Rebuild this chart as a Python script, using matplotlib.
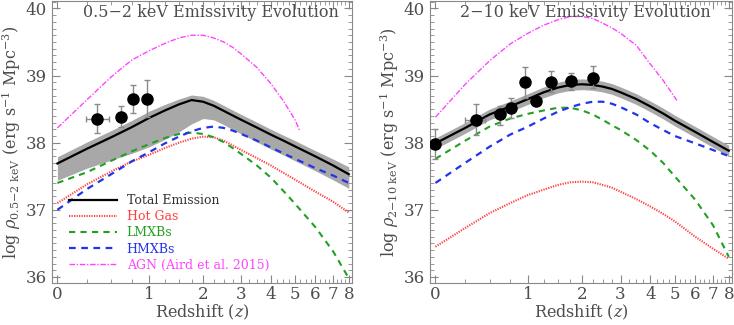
import numpy as np
import matplotlib
matplotlib.use("Agg")
import matplotlib.pyplot as plt
from matplotlib.ticker import FixedLocator, MultipleLocator

plt.rcParams['font.family'] = ['DejaVu Serif']
plt.rcParams['mathtext.fontset'] = 'dejavuserif'

# redshift grid the curves were read at
z_grid = [0, 0.25, 0.5, 0.75, 1, 1.25, 1.5, 1.75, 2, 2.25, 2.5, 2.75, 3, 3.5, 4, 4.5, 5, 6, 7, 8]

# 0.5-2 keV panel
soft_total = [37.69, 37.91, 38.08, 38.23, 38.37, 38.48, 38.57, 38.635, 38.61, 38.55, 38.475,
              38.405, 38.34, 38.225, 38.12, 38.03, 37.945, 37.795, 37.66, 37.53]
soft_band_hi = [37.79, 38.01, 38.18, 38.33, 38.47, 38.57, 38.65, 38.71, 38.69, 38.63, 38.555,
                38.485, 38.42, 38.305, 38.20, 38.11, 38.03, 37.88, 37.755, 37.64]
soft_band_lo = [37.44, 37.62, 37.74, 37.84, 37.94, 38.05, 38.16, 38.28, 38.36, 38.34, 38.27,
                38.195, 38.13, 38.01, 37.905, 37.815, 37.73, 37.58, 37.445, 37.32]
soft_hot = [37.10, 37.38, 37.57, 37.72, 37.82, 37.92, 38.00, 38.06, 38.09, 38.08, 38.03,
            37.96, 37.89, 37.77, 37.66, 37.55, 37.45, 37.27, 37.12, 36.96]
soft_lmxb = [37.40, 37.56, 37.73, 37.87, 37.98, 38.07, 38.13, 38.15, 38.13, 38.08, 38.01,
             37.92, 37.83, 37.66, 37.48, 37.28, 37.09, 36.74, 36.38, 35.98]
soft_hmxb = [37.00, 37.31, 37.53, 37.72, 37.86, 37.99, 38.09, 38.17, 38.22, 38.24, 38.22,
             38.18, 38.13, 38.03, 37.93, 37.84, 37.76, 37.62, 37.51, 37.40]

soft_agn_z = [0, 0.25, 0.5, 0.75, 1, 1.25, 1.5, 1.75, 2, 2.25, 2.5, 2.75, 3, 3.5, 4, 4.5, 5, 5.2]
soft_agn = [38.22, 38.64, 38.98, 39.23, 39.37, 39.48, 39.56, 39.60, 39.60, 39.56, 39.50,
            39.42, 39.32, 39.12, 38.88, 38.62, 38.34, 38.19]

soft_obs_z = [0.352, 0.616, 0.765, 0.961]
soft_obs = [38.36, 38.38, 38.65, 38.65]
soft_obs_up = [0.22, 0.17, 0.21, 0.28]
soft_obs_dn = [0.21, 0.14, 0.21, 0.27]
soft_obs_zlo = [0.11, 0.03, 0.03, 0.03]
soft_obs_zhi = [0.12, 0.03, 0.03, 0.03]

# 2-10 keV panel
hard_total = [37.99, 38.22, 38.42, 38.54, 38.65, 38.75, 38.82, 38.86, 38.87, 38.86, 38.835,
              38.80, 38.75, 38.65, 38.54, 38.435, 38.33, 38.16, 38.01, 37.88]
hard_band_hi = [38.07, 38.30, 38.50, 38.62, 38.73, 38.83, 38.90, 38.94, 38.95, 38.94, 38.915,
                38.88, 38.83, 38.73, 38.62, 38.515, 38.41, 38.24, 38.09, 37.96]
hard_band_lo = [37.91, 38.14, 38.34, 38.46, 38.57, 38.67, 38.74, 38.78, 38.79, 38.78, 38.755,
                38.72, 38.67, 38.57, 38.46, 38.355, 38.25, 38.08, 37.93, 37.80]
hard_hot = [36.45, 36.73, 36.95, 37.10, 37.22, 37.30, 37.37, 37.41, 37.42, 37.41, 37.37,
            37.33, 37.27, 37.16, 37.05, 36.94, 36.83, 36.60, 36.42, 36.27]
hard_lmxb = [37.76, 38.03, 38.24, 38.36, 38.43, 38.48, 38.52, 38.52, 38.48, 38.42, 38.34,
             38.26, 38.19, 38.04, 37.88, 37.70, 37.50, 37.15, 36.77, 36.30]
hard_hmxb = [37.40, 37.70, 37.94, 38.12, 38.24, 38.36, 38.46, 38.53, 38.58, 38.61, 38.61,
             38.58, 38.53, 38.42, 38.29, 38.19, 38.10, 37.99, 37.89, 37.80]

hard_agn_z = [0, 0.25, 0.5, 0.75, 1, 1.25, 1.5, 1.75, 2, 2.25, 2.5, 2.75, 3, 3.5, 4, 4.5, 5.1]
hard_agn = [38.38, 38.87, 39.22, 39.47, 39.63, 39.75, 39.83, 39.88, 39.88, 39.85, 39.78,
            39.71, 39.63, 39.45, 39.17, 38.93, 38.63]

hard_obs_z = [0.0, 0.350, 0.617, 0.765, 0.950, 1.128, 1.383, 1.770, 2.258]
hard_obs = [37.98, 38.34, 38.42, 38.52, 38.91, 38.62, 38.91, 38.92, 38.97]
hard_obs_up = [0.23, 0.24, 0.12, 0.15, 0.22, 0.06, 0.16, 0.12, 0.17]
hard_obs_dn = [0.23, 0.23, 0.16, 0.16, 0.25, 0.06, 0.15, 0.13, 0.16]
hard_obs_zlo = [0.0, 0.10, 0.03, 0.03, 0.03, 0.03, 0.04, 0.10, 0.07]
hard_obs_zhi = [0.0, 0.10, 0.03, 0.03, 0.03, 0.03, 0.04, 0.06, 0.09]

labels = ['Total Emission', 'Hot Gas', 'LMXBs', 'HMXBs', 'AGN (Aird et al. 2015)']

c_hot = '#ff4040'
c_lmxb = '#22a022'
c_hmxb = '#2233ee'
c_agn = '#ff44ff'
c_txt = '#4d4d4d'


def fwd(z):
    return np.log10(1 + np.asarray(z, dtype=float))


def inv(v):
    return 10 ** np.asarray(v, dtype=float) - 1


def panel(ax, title, tx, total, hi, lo, hot, lmxb, hmxb, az, agn, oz, ob, up, dn, zlo, zhi):
    ax.set_xscale('function', functions=(fwd, inv))
    ax.fill_between(z_grid, lo, hi, color='#a8a8a8', lw=0, zorder=1)
    l_tot, = ax.plot(z_grid, total, color='black', lw=1.6, zorder=3)
    l_hot, = ax.plot(z_grid, hot, color=c_hot, lw=1.5, ls=(0, (0.6, 0.6)), zorder=2)
    l_lm, = ax.plot(z_grid, lmxb, color=c_lmxb, lw=1.5, ls=(0, (3, 2.5)), zorder=2)
    l_hm, = ax.plot(z_grid, hmxb, color=c_hmxb, lw=1.6, ls=(0, (3, 2.5)), zorder=2)
    l_agn, = ax.plot(az, agn, color=c_agn, lw=1.0, ls=(0, (4, 1.2, 1, 1.2)), zorder=2)
    ax.errorbar(oz, ob, yerr=[dn, up], xerr=[zlo, zhi], fmt='o', color='black',
                ms=8, ecolor='#8a8a8a', elinewidth=1, capsize=2, zorder=4)
    ax.text(tx, 0.988, title, transform=ax.transAxes, ha='center',
            va='top', fontsize=11.5, color=c_txt)
    ax.set_xlim(-0.04, 8.22)
    ax.set_ylim(35.91, 40.11)
    ax.xaxis.set_major_locator(FixedLocator(range(9)))
    ax.xaxis.set_minor_locator(FixedLocator(np.arange(0, 8.01, 0.25)))
    ax.yaxis.set_major_locator(MultipleLocator(1))
    ax.yaxis.set_minor_locator(MultipleLocator(0.1))
    ax.tick_params(which='both', direction='in', top=True, right=True, colors='#888888',
                   labelcolor=c_txt, labelsize=12)
    ax.tick_params(axis='x', pad=2)
    ax.tick_params(which='major', length=6)
    ax.tick_params(which='minor', length=3)
    for s in ax.spines.values():
        s.set_color('#888888')
    ax.set_xlabel(r'Redshift ($z$)', fontsize=11.5, color=c_txt, labelpad=0)
    return [l_tot, l_hot, l_lm, l_hm, l_agn]


fig = plt.figure(figsize=(7.34, 3.25), dpi=100)
ax1 = fig.add_axes([52 / 734, 42 / 325, 300 / 734, 282 / 325])
ax2 = fig.add_axes([430 / 734, 42 / 325, 302 / 734, 282 / 325])

h = panel(ax1, '0.5\u22122 keV Emissivity Evolution', 0.53, soft_total, soft_band_hi,
          soft_band_lo, soft_hot, soft_lmxb, soft_hmxb, soft_agn_z, soft_agn, soft_obs_z,
          soft_obs, soft_obs_up, soft_obs_dn, soft_obs_zlo, soft_obs_zhi)
panel(ax2, '2\u221210 keV Emissivity Evolution', 0.513, hard_total, hard_band_hi,
      hard_band_lo, hard_hot, hard_lmxb, hard_hmxb, hard_agn_z, hard_agn, hard_obs_z,
      hard_obs, hard_obs_up, hard_obs_dn, hard_obs_zlo, hard_obs_zhi)

ax1.set_ylabel(r'log $\rho_{0.5\mathrm{-}2\ \mathrm{keV}}$ (erg s$^{-1}$ Mpc$^{-3}$)',
               fontsize=11.5, color=c_txt, labelpad=2)
ax2.set_ylabel(r'log $\rho_{2\mathrm{-}10\ \mathrm{keV}}$ (erg s$^{-1}$ Mpc$^{-3}$)',
               fontsize=11.5, color=c_txt, labelpad=2)

leg = ax1.legend(h, labels, loc='lower left', bbox_to_anchor=(0.02, 0.0), frameon=False,
                 fontsize=9, handlelength=3.8, handletextpad=0.8, labelspacing=0.25,
                 labelcolor=['#333333', c_hot, c_lmxb, c_hmxb, c_agn])

fig.savefig('out.png', dpi=100)
